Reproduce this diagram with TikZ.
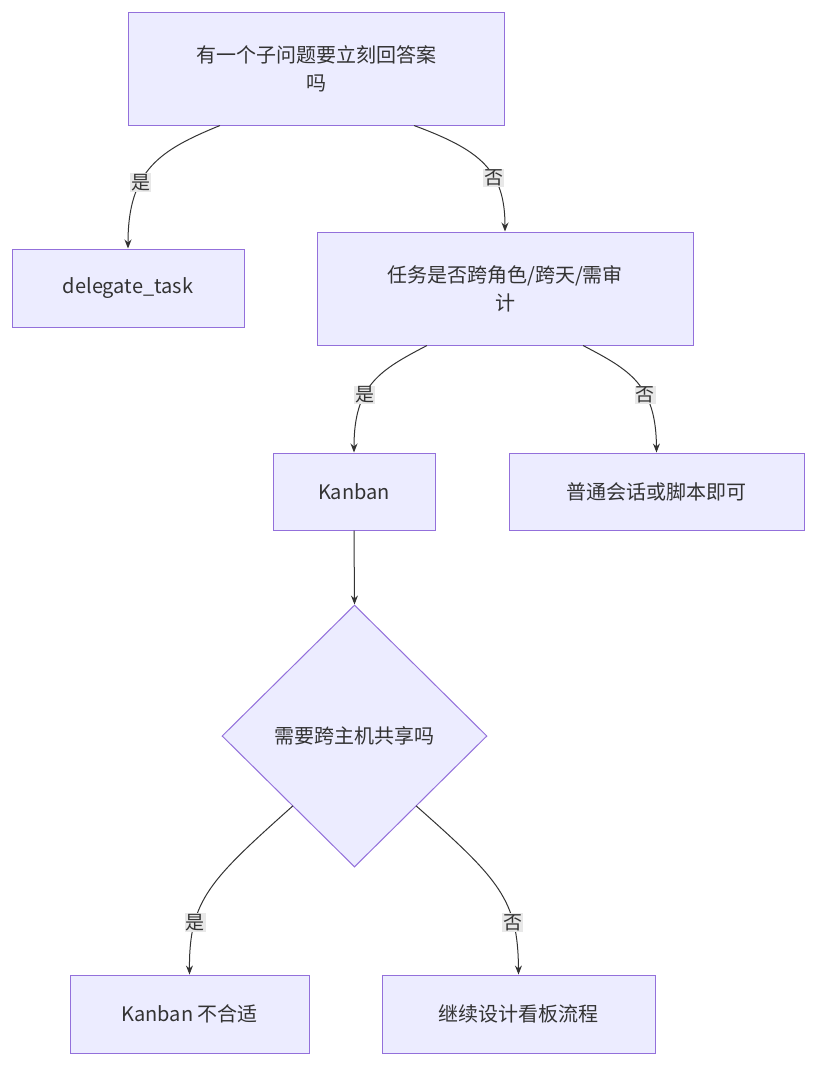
\documentclass[tikz,border=0pt]{standalone}
\usepackage{fontspec}
\setmainfont{Noto Sans CJK SC}
\usetikzlibrary{shapes.geometric,arrows.meta}
\definecolor{nf}{HTML}{ECECFF}
\definecolor{ns}{HTML}{9370DB}
\definecolor{tx}{HTML}{333333}
\definecolor{lb}{HTML}{E8E8E8}
\begin{document}
\begin{tikzpicture}[x=1pt,y=-1pt,
 box/.style={draw=ns,fill=nf,line width=1pt,text=tx,font=\fontsize{20}{28}\selectfont,align=center,inner sep=0pt},
 dia/.style={draw=ns,fill=nf,line width=1pt,diamond,text=tx,font=\fontsize{20}{28}\selectfont,inner sep=0pt,minimum width=265pt,minimum height=262pt},
 lab/.style={fill=lb,text=tx,font=\fontsize{19}{21}\selectfont,inner sep=1pt},
 edge/.style={draw=tx,line width=1pt,-{Stealth[length=9pt,width=7pt]}}]
\useasboundingbox (0,0) rectangle (828,1080);
\node[box,minimum width=376pt,minimum height=113pt] (A) at (316,68.5) {有一个子问题要立刻回答案\\吗};
\node[box,minimum width=232pt,minimum height=78pt] (B) at (128,288) {delegate\_task};
\node[box,minimum width=376pt,minimum height=113pt] (C) at (505,288.5) {任务是否跨角色/跨天/需审\\计};
\node[box,minimum width=162pt,minimum height=77pt] (D) at (354,491.5) {Kanban};
\node[box,minimum width=295pt,minimum height=77pt] (E) at (656.5,491.5) {普通会话或脚本即可};
\node[dia] (F) at (354.5,736) {需要跨主机共享吗};
\node[box,minimum width=239pt,minimum height=78pt] (G) at (189.5,1014) {Kanban 不合适};
\node[box,minimum width=273pt,minimum height=78pt] (H) at (518.5,1014) {继续设计看板流程};
\path[edge] (A.south) ++(-96,0) coordinate (a1) (a1) .. controls (160,150) and (128,170) .. (B.north) node[lab,pos=0.63] {是};
\path[edge] (A.south) ++(98,0) coordinate (a2) (a2) .. controls (480,150) and (505,170) .. (C.north) node[lab,pos=0.63] {否};
\path[edge] (C.south) ++(-78,0) coordinate (c1) (c1) .. controls (380,370) and (354,385) .. (D.north) node[lab,pos=0.62] {是};
\path[edge] (C.south) ++(78,0) coordinate (c2) (c2) .. controls (630,370) and (656,385) .. (E.north) node[lab,pos=0.62] {否};
\path[edge] (D.south) -- (F.north);
\path[edge] (F.south west) ++(5,4) coordinate (f1) (f1) .. controls (210,880) and (189,900) .. (G.north) node[lab,pos=0.72] {是};
\path[edge] (F.south east) ++(-5,4) coordinate (f2) (f2) .. controls (500,880) and (518,900) .. (H.north) node[lab,pos=0.72] {否};
\end{tikzpicture}
\end{document}
